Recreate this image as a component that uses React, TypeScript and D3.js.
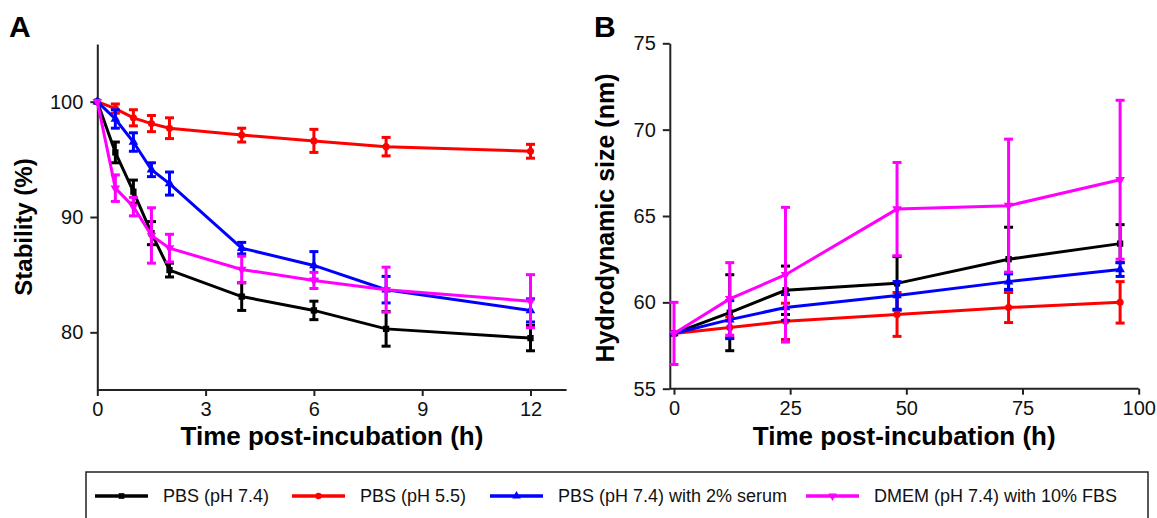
import { useEffect, useRef } from 'react';
import * as d3 from 'd3';

// panel A: stability over 12 h
const timeA = [0, 0.5, 1, 1.5, 2, 4, 6, 8, 12];
const pbs74A = [100, 95.6, 92.2, 88.6, 85.4, 83.1, 81.9, 80.3, 79.5];
const pbs74AErr = [0, 0.9, 1.0, 1.0, 0.6, 1.2, 0.8, 1.5, 1.1];
const pbs55A = [100, 99.4, 98.6, 98.1, 97.7, 97.1, 96.6, 96.1, 95.7];
const pbs55AErr = [0, 0.4, 0.7, 0.7, 0.9, 0.6, 1.0, 0.8, 0.6];
const serumA = [100, 98.5, 96.5, 94.1, 92.9, 87.3, 85.8, 83.7, 81.9];
const serumAErr = [0, 0.8, 0.8, 0.6, 1.0, 0.5, 1.2, 1.15, 1.0];
const dmemA = [100, 92.5, 90.9, 88.4, 87.3, 85.45, 84.5, 83.7, 82.7];
const dmemAErr = [0, 1.15, 0.8, 2.4, 1.2, 1.15, 0.7, 1.95, 2.3];

// panel B: hydrodynamic size over 96 h
const timeB = [0, 12, 24, 48, 72, 96];
const pbs74B = [58.2, 59.4, 60.7, 61.1, 62.5, 63.4];
const pbs74BErr = [0.1, 2.2, 1.4, 1.55, 1.85, 1.1];
const pbs55B = [58.2, 58.55, 58.9, 59.3, 59.7, 60.0];
const pbs55BErr = [0.1, 0.6, 1.05, 1.27, 0.87, 1.2];
const serumB = [58.2, 59.0, 59.7, 60.4, 61.2, 61.9];
const serumBErr = [0.1, 1.1, 0.75, 0.8, 0.45, 0.4];
const dmemB = [58.2, 60.2, 61.6, 65.4, 65.6, 67.1];
const dmemBErr = [1.8, 2.1, 3.9, 2.7, 3.85, 4.6];

const ticksAX = [0, 3, 6, 9, 12];
const ticksAY = [80, 90, 100];
const ticksBX = [0, 25, 50, 75, 100];
const ticksBY = [55, 60, 65, 70, 75];

const seriesNames = ['PBS (pH 7.4)', 'PBS (pH 5.5)', 'PBS (pH 7.4) with 2% serum', 'DMEM (pH 7.4) with 10% FBS'];
const seriesColors = ['#000000', '#ff0000', '#0000ff', '#ff00ff'];
const seriesSymbols = [d3.symbolSquare, d3.symbolCircle, d3.symbolTriangle, d3.symbolTriangle];

const FONT = '"Liberation Sans", Arial, sans-serif';

const App = () => {
    const ref = useRef<SVGSVGElement>(null);

    useEffect(() => {
        const svg = d3.select(ref.current);
        svg.selectAll('*').remove();

        const drawPanel = (opts) => {
            const { x, y, xTicks, yTicks, times, vals, errs, yTitle, yTitleX, label, labelX } = opts;
            const g = svg.append('g');
            const [x0, x1] = x.range();
            const [y0] = y.range();

            const xAxis = g.append('g')
                .attr('transform', `translate(0,${y0})`)
                .call(d3.axisBottom(x).tickValues(xTicks).tickSize(6).tickSizeOuter(0).tickPadding(6));
            const yAxis = g.append('g')
                .attr('transform', `translate(${x0},0)`)
                .call(d3.axisLeft(y).tickValues(yTicks).tickSize(7).tickSizeOuter(0).tickPadding(7));
            [xAxis, yAxis].forEach(ax => {
                ax.selectAll('path, line').attr('stroke', '#222').attr('stroke-width', 2);
                ax.selectAll('text').attr('font-size', 20).attr('font-family', FONT).attr('fill', '#111');
            });
            // the x axis line starts at the y axis
            xAxis.select('.domain').attr('d', `M${x0},0H${x1}`);

            g.append('text')
                .attr('x', (x0 + x1) / 2)
                .attr('y', 445)
                .attr('text-anchor', 'middle')
                .attr('font-size', 26).attr('font-weight', 'bold').attr('font-family', FONT)
                .text('Time post-incubation (h)');

            g.append('text')
                .attr('transform', `translate(${yTitleX},${opts.yTitleY}) rotate(-90)`)
                .attr('text-anchor', 'middle')
                .attr('font-size', opts.yTitleSize).attr('font-weight', 'bold').attr('font-family', FONT)
                .text(yTitle);

            g.append('text')
                .attr('x', labelX).attr('y', 37)
                .attr('font-size', 30).attr('font-weight', 'bold').attr('font-family', FONT)
                .text(label);

            const line = d3.line<number>()
                .x((_, i) => x(times[i]))
                .y(d => y(d));

            vals.forEach((series, s) => {
                const col = seriesColors[s];
                const sg = g.append('g');
                sg.append('path')
                    .attr('d', line(series))
                    .attr('fill', 'none')
                    .attr('stroke', col)
                    .attr('stroke-width', 3);
                series.forEach((v, i) => {
                    const e = errs[s][i];
                    if (e <= 0.15) return;
                    const cx = x(times[i]);
                    sg.append('line')
                        .attr('x1', cx).attr('x2', cx)
                        .attr('y1', y(v + e)).attr('y2', y(v - e))
                        .attr('stroke', col).attr('stroke-width', 3);
                    [v + e, v - e].forEach(c => {
                        sg.append('line')
                            .attr('x1', cx - 4.5).attr('x2', cx + 4.5)
                            .attr('y1', y(c)).attr('y2', y(c))
                            .attr('stroke', col).attr('stroke-width', 3);
                    });
                });
                sg.selectAll('path.mk')
                    .data(series)
                    .enter()
                    .append('path')
                    .attr('class', 'mk')
                    .attr('d', d3.symbol(seriesSymbols[s], 40))
                    .attr('transform', (d, i) => `translate(${x(times[i])},${y(d)})${s === 3 ? ' rotate(180)' : ''}`)
                    .attr('fill', col);
            });
        };

        drawPanel({
            x: d3.scaleLinear().domain([0, 13]).range([97.3, 566.6]),
            y: d3.scaleLinear().domain([75, 105]).range([390, 44]),
            xTicks: ticksAX, yTicks: ticksAY,
            times: timeA,
            vals: [pbs74A, pbs55A, serumA, dmemA],
            errs: [pbs74AErr, pbs55AErr, serumAErr, dmemAErr],
            yTitle: 'Stability (%)', yTitleX: 32, yTitleY: 227, yTitleSize: 24,
            label: 'A', labelX: 9,
        });

        drawPanel({
            x: d3.scaleLinear().domain([-0.9, 100]).range([669.8, 1138.7]),
            y: d3.scaleLinear().domain([55, 75]).range([388.7, 43.3]),
            xTicks: ticksBX, yTicks: ticksBY,
            times: timeB,
            vals: [pbs74B, pbs55B, serumB, dmemB],
            errs: [pbs74BErr, pbs55BErr, serumBErr, dmemBErr],
            yTitle: 'Hydrodynamic size (nm)', yTitleX: 614, yTitleY: 218, yTitleSize: 25,
            label: 'B', labelX: 594,
        });

        // legend
        const leg = svg.append('g');
        leg.append('rect')
            .attr('x', 86).attr('y', 472)
            .attr('width', 1062).attr('height', 70)
            .attr('fill', 'none').attr('stroke', '#222').attr('stroke-width', 1.5);
        const legX = [95, 292, 490, 806];
        seriesNames.forEach((name, s) => {
            const lx = legX[s];
            leg.append('line')
                .attr('x1', lx).attr('x2', lx + 53)
                .attr('y1', 496).attr('y2', 496)
                .attr('stroke', seriesColors[s]).attr('stroke-width', 3.5);
            leg.append('path')
                .attr('d', d3.symbol(seriesSymbols[s], 32))
                .attr('transform', `translate(${lx + 26.5},496)${s === 3 ? ' rotate(180)' : ''}`)
                .attr('fill', seriesColors[s]);
            leg.append('text')
                .attr('x', lx + 68).attr('y', 502)
                .attr('font-size', 18).attr('font-family', FONT)
                .attr('fill', '#111')
                .text(name);
        });
    }, []);

    return (
        <svg
            ref={ref}
            width={1157}
            height={518}
            style={{ position: 'absolute', left: 0, top: 0, background: '#fff' }}
        />
    );
};

export default App;
